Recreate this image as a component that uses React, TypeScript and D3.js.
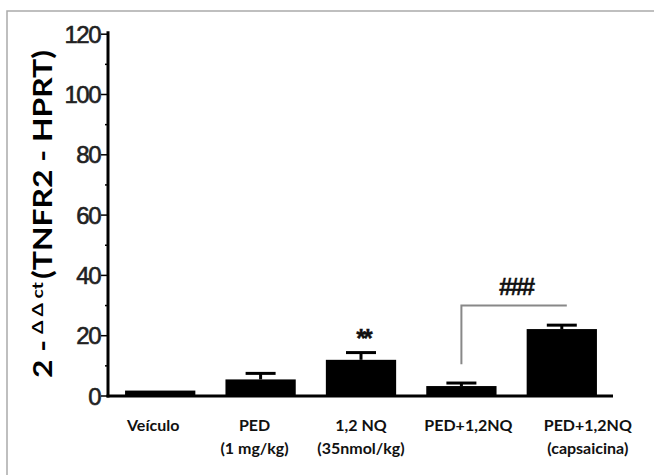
import React from "react";
import * as d3 from "d3";

const categories = ["Veículo", "PED", "1,2 NQ", "PED+1,2NQ", "PED+1,2NQ"];
const subLabels = ["", "(1 mg/kg)", "(35nmol/kg)", "", "(capsaicina)"];
const means = [1.8, 5.5, 12.0, 3.3, 22.2];
const errors = [0, 2.0, 2.4, 1.0, 1.3];
const yTicks = [0, 20, 40, 60, 80, 100, 120];
const yMinor = [10, 30, 50, 70, 90, 110];
const starLabels = ["", "", "**", "", ""];

const W = 654;
const H = 475;

export default function App() {
  const x = d3.scaleBand<number>().domain(d3.range(categories.length)).range([110, 612]).paddingInner(0.3).paddingOuter(0.15);
  const y = d3.scaleLinear().domain([0, 120]).range([396, 34.2]);
  const axisX = 108;
  const bw = x.bandwidth();
  const cx = (i: number) => (x(i) as number) + bw / 2;
  const labelShift = [-7, -6, 0, 7, 26];
  const tickFont = "'Liberation Sans', Arial, sans-serif";
  const labFont = "Lato, 'Open Sans', sans-serif";
  const bracketX1 = cx(3);
  const bracketX2 = cx(4) + 5;
  const bracketY = y(30);
  return (
    <svg width={W} height={H} style={{ position: "absolute", left: 0, top: 0, background: "#fff" }}>
      <rect x={7} y={11} width={W + 10} height={H + 10} fill="none" stroke="#aaa" strokeWidth={1.5} />
      {/* bars */}
      {means.map((m, i) => (
        <g key={i}>
          <rect x={x(i)} y={y(m)} width={bw} height={y(0) - y(m)} fill="#000" />
          {errors[i] > 0 && (
            <g stroke="#000" strokeWidth={3}>
              <line x1={cx(i)} x2={cx(i)} y1={y(m)} y2={y(m + errors[i])} />
              <line x1={cx(i) - 15} x2={cx(i) + 15} y1={y(m + errors[i])} y2={y(m + errors[i])} />
            </g>
          )}
          {starLabels[i] && (
            <text x={cx(i) + 2} y={y(m + errors[i]) - 6} textAnchor="middle" fontFamily={tickFont} fontWeight="bold" fontSize={25} letterSpacing={-3} fill="#111" stroke="#111" strokeWidth={0.4}>
              {starLabels[i]}
            </text>
          )}
          <text x={cx(i) + labelShift[i]} y={431} textAnchor="middle" fontFamily={labFont} fontWeight="bold" fontSize={16} fill="#111">
            {categories[i]}
          </text>
          {subLabels[i] && (
            <text x={cx(i) + labelShift[i]} y={454} textAnchor="middle" fontFamily={labFont} fontWeight="bold" fontSize={16} fill="#111">
              {subLabels[i]}
            </text>
          )}
        </g>
      ))}
      {/* bracket */}
      <path d={`M${bracketX1},${y(10.5)}V${bracketY}H${bracketX2}`} fill="none" stroke="#888" strokeWidth={2} />
      <text x={(bracketX1 + bracketX2) / 2 + 2} y={y(30) - 11} textAnchor="middle" fontFamily={tickFont} fontWeight="bold" fontSize={24} letterSpacing={-2} fill="#111" stroke="#111" strokeWidth={0.4}>
        ###
      </text>
      {/* axes */}
      <line x1={axisX} x2={axisX} y1={y(121)} y2={y(0) + 1.5} stroke="#000" strokeWidth={3} />
      <line x1={axisX - 1.5} x2={613} y1={y(0)} y2={y(0)} stroke="#000" strokeWidth={3} />
      {yTicks.map((t) => (
        <g key={t}>
          <line x1={axisX - 7} x2={axisX} y1={y(t)} y2={y(t)} stroke="#000" strokeWidth={1.5} />
          <text x={axisX - 8} y={y(t)} dy="0.36em" textAnchor="end" fontFamily={tickFont} fontSize={24} letterSpacing={-1.5} fill="#222" stroke="#222" strokeWidth={0.6}>
            {t}
          </text>
        </g>
      ))}
      {yMinor.map((t) => (
        <line key={t} x1={axisX - 3} x2={axisX} y1={y(t)} y2={y(t)} stroke="#000" strokeWidth={1.5} />
      ))}
      {/* y label */}
      <g transform="translate(52,0) rotate(-90)" fontFamily={labFont} fontWeight="bold" fill="#000">
        <text x={-378} y={0} fontSize={26} textLength={38} lengthAdjust="spacingAndGlyphs">2 -</text>
        <text x={-334} y={-9} fontSize={15} textLength={52} lengthAdjust="spacingAndGlyphs">Δ Δ ct</text>
        <text x={-279} y={0} fontSize={26} textLength={229} lengthAdjust="spacingAndGlyphs">(TNFR2 - HPRT)</text>
      </g>
    </svg>
  );
}
